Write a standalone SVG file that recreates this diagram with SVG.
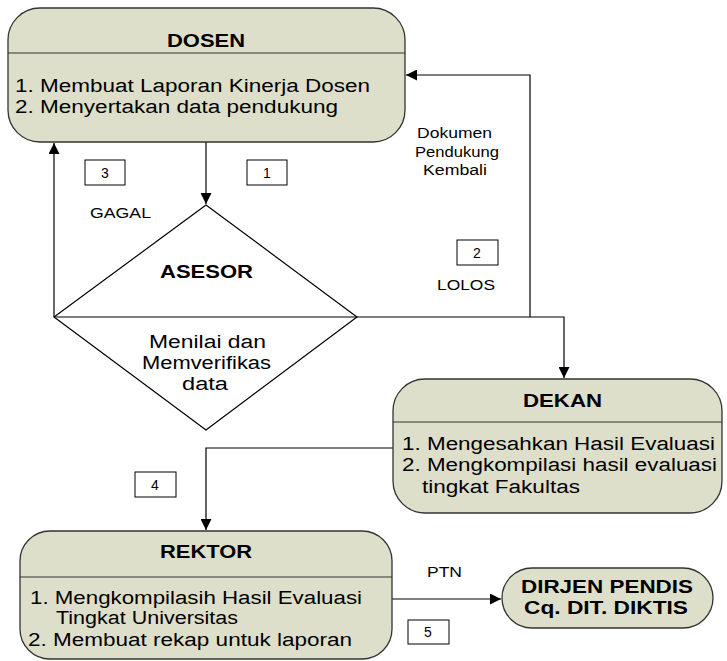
<svg xmlns="http://www.w3.org/2000/svg" width="727" height="661" viewBox="0 0 727 661">
<defs>
<marker id="ah" viewBox="0 0 10 10" refX="10" refY="5" markerWidth="11" markerHeight="11" markerUnits="userSpaceOnUse" orient="auto">
<path d="M0,0 L10,5 L0,10 z" fill="#000"/>
</marker>
</defs>
<style>
.node{fill:#dedfcb;stroke:#333;stroke-width:1.3}
.div{stroke:#333;stroke-width:1.1}
.t{font-family:"Liberation Sans",Arial,sans-serif;fill:#000}
.title{font-size:18px;font-weight:bold}
.item{font-size:18px}
.lbl{font-size:14px}
.num{fill:#fff;stroke:#000;stroke-width:1}
.c{fill:none;stroke:#000;stroke-width:1.2}
</style>
<rect width="727" height="661" fill="#fff"/>
<g id="connectors">
<path class="c" d="M206,142 V204" marker-end="url(#ah)"/>
<path class="c" d="M54,317 V143" marker-end="url(#ah)"/>
<path class="c" d="M357,317 H564 V378" marker-end="url(#ah)"/>
<path class="c" d="M530,317 V75 H406" marker-end="url(#ah)"/>
<path class="c" d="M393,448 H206 V530" marker-end="url(#ah)"/>
<path class="c" d="M392,599 H501" marker-end="url(#ah)"/>
</g>
<g id="labels">
<rect class="num" x="85" y="160" width="40" height="25"/>
<text class="t lbl" x="105" y="178" text-anchor="middle">3</text>
<rect class="num" x="247" y="160" width="40" height="25"/>
<text class="t lbl" x="267" y="178" text-anchor="middle">1</text>
<text class="t lbl" x="90" y="218" textLength="61" lengthAdjust="spacingAndGlyphs">GAGAL</text>
<text class="t lbl" x="417" y="138" textLength="75" lengthAdjust="spacingAndGlyphs">Dokumen</text>
<text class="t lbl" x="415" y="157" textLength="84" lengthAdjust="spacingAndGlyphs">Pendukung</text>
<text class="t lbl" x="423" y="175" textLength="64" lengthAdjust="spacingAndGlyphs">Kembali</text>
<rect class="num" x="457" y="240" width="41" height="25"/>
<text class="t lbl" x="477" y="258" text-anchor="middle">2</text>
<text class="t lbl" x="437" y="290" textLength="58" lengthAdjust="spacingAndGlyphs">LOLOS</text>
<rect class="num" x="135" y="472" width="41" height="25"/>
<text class="t lbl" x="155" y="490" text-anchor="middle">4</text>
<text class="t lbl" x="427" y="577" textLength="35" lengthAdjust="spacingAndGlyphs">PTN</text>
<rect class="num" x="408" y="620" width="41" height="24"/>
<text class="t lbl" x="428" y="637" text-anchor="middle">5</text>
</g>
<g id="dosen">
<rect class="node" x="8" y="8" width="397" height="134" rx="32"/>
<line class="div" x1="8" y1="53" x2="405" y2="53"/>
<text class="t title" x="167" y="47" textLength="78" lengthAdjust="spacingAndGlyphs">DOSEN</text>
<text class="t item" x="15" y="92" textLength="355" lengthAdjust="spacingAndGlyphs">1. Membuat Laporan Kinerja Dosen</text>
<text class="t item" x="15" y="113" textLength="323" lengthAdjust="spacingAndGlyphs">2. Menyertakan data pendukung</text>
</g>
<g id="asesor">
<path d="M206,205 L357,317 L206,430 L54,317 Z" fill="#fff" stroke="#000" stroke-width="1.2"/>
<line class="c" x1="54" y1="317" x2="357" y2="317"/>
<text class="t title" x="160" y="278" textLength="93" lengthAdjust="spacingAndGlyphs">ASESOR</text>
<text class="t item" x="149" y="348" textLength="117" lengthAdjust="spacingAndGlyphs">Menilai dan</text>
<text class="t item" x="142" y="369" textLength="129" lengthAdjust="spacingAndGlyphs">Memverifikas</text>
<text class="t item" x="182" y="390" textLength="46" lengthAdjust="spacingAndGlyphs">data</text>
</g>
<g id="dekan">
<rect class="node" x="393" y="379" width="329" height="134" rx="32"/>
<line class="div" x1="393" y1="422" x2="722" y2="422"/>
<text class="t title" x="523" y="407" textLength="79" lengthAdjust="spacingAndGlyphs">DEKAN</text>
<text class="t item" x="402" y="450" textLength="313" lengthAdjust="spacingAndGlyphs">1. Mengesahkan Hasil Evaluasi</text>
<text class="t item" x="402" y="471" textLength="315" lengthAdjust="spacingAndGlyphs">2. Mengkompilasi hasil evaluasi</text>
<text class="t item" x="422" y="493" textLength="158" lengthAdjust="spacingAndGlyphs">tingkat Fakultas</text>
</g>
<g id="rektor">
<rect class="node" x="20" y="531" width="372" height="128" rx="30"/>
<line class="div" x1="20" y1="577" x2="392" y2="577"/>
<text class="t title" x="160" y="558" textLength="92" lengthAdjust="spacingAndGlyphs">REKTOR</text>
<text class="t item" x="30" y="604" textLength="332" lengthAdjust="spacingAndGlyphs">1. Mengkompilasih Hasil Evaluasi</text>
<text class="t item" x="56" y="624" textLength="182" lengthAdjust="spacingAndGlyphs">Tingkat Universitas</text>
<text class="t item" x="28" y="646" textLength="324" lengthAdjust="spacingAndGlyphs">2. Membuat rekap untuk laporan</text>
</g>
<g id="dirjen">
<rect class="node" x="502" y="568" width="211" height="60" rx="30"/>
<text class="t title" x="521" y="593" textLength="172" lengthAdjust="spacingAndGlyphs">DIRJEN PENDIS</text>
<text class="t title" x="524" y="614" textLength="164" lengthAdjust="spacingAndGlyphs">Cq. DIT. DIKTIS</text>
</g>
</svg>
